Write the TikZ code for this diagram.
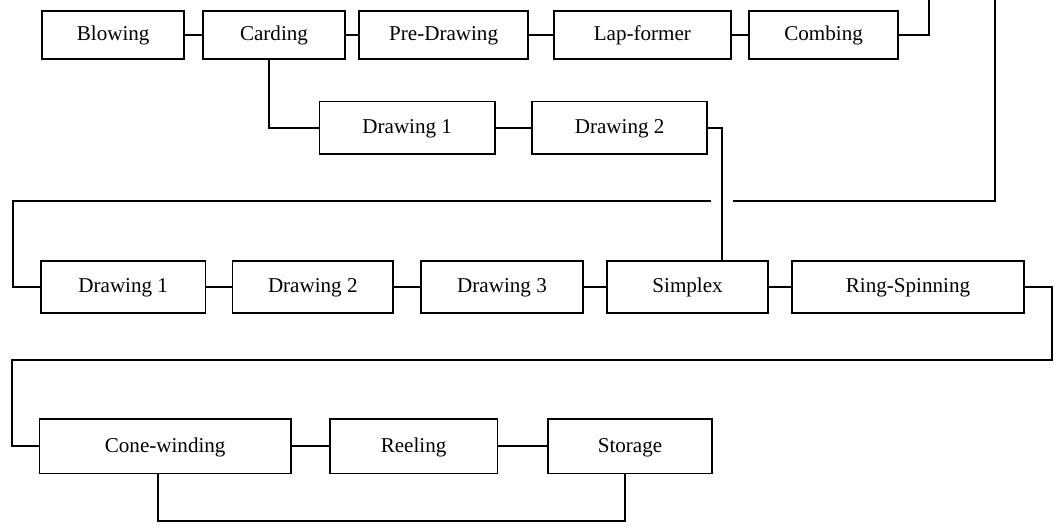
\documentclass[tikz,border=0pt]{standalone}
\usepackage{fontspec}
\setmainfont{Liberation Serif}
\usetikzlibrary{positioning,calc}
\tikzset{
  spbox/.style={draw, rectangle, line width=1.2pt, inner sep=2pt, minimum height=1.3cm,
    text height=2.1ex, text depth=0.3ex, font=\fontsize{15}{18}\selectfont},
  splink/.style={line width=1.2pt},
}

\begin{document}
\begin{tikzpicture}[x=1cm,y=1cm]
  \useasboundingbox (0,0) rectangle (26.35,13.275);
  \clip (0,0) rectangle (26.35,13.275);

  % opening line
  \node[spbox, minimum width=3.55cm, minimum height=1.2cm] (blow) at (2.83,12.4) {Blowing};
  \node[spbox, minimum width=3.55cm, minimum height=1.2cm] (card) at (6.85,12.4) {Carding};
  \node[spbox, minimum width=4.22cm, minimum height=1.2cm] (pre) at (11.09,12.4) {Pre-Drawing};
  \node[spbox, minimum width=4.42cm, minimum height=1.2cm] (lap) at (16.06,12.4) {Lap-former};
  \node[spbox, minimum width=3.72cm, minimum height=1.2cm] (comb) at (20.59,12.4) {Combing};

  \draw[splink] (blow.east) -- (card.west);
  \draw[splink] (card.east) -- (pre.west);
  \draw[splink] (pre.east) -- (lap.west);
  \draw[splink] (lap.east) -- (comb.west);

  % carded branch
  \node[spbox, minimum width=4.39cm, minimum height=1.32cm] (dr1) at (10.18,10.08) {Drawing 1};
  \node[spbox, minimum width=4.38cm, minimum height=1.32cm] (dr2) at (15.49,10.08) {Drawing 2};

  \draw[splink] ($(card.south)+(-0.13,0)$) |- (dr1.west);
  \draw[splink] (dr1.east) -- (dr2.west);

  % spinning line
  \node[spbox, minimum width=4.12cm] (d1b) at (3.08,6.1) {Drawing 1};
  \node[spbox, minimum width=4.01cm] (d2b) at (7.82,6.1) {Drawing 2};
  \node[spbox, minimum width=4.05cm] (d3b) at (12.55,6.1) {Drawing 3};
  \node[spbox, minimum width=4.03cm] (simp) at (17.19,6.1) {Simplex};
  \node[spbox, minimum width=5.79cm] (ring) at (22.7,6.1) {Ring-Spinning};

  \draw[splink] (d1b.east) -- (d2b.west);
  \draw[splink] (d2b.east) -- (d3b.west);
  \draw[splink] (d3b.east) -- (simp.west);
  \draw[splink] (simp.east) -- (ring.west);
  \draw[splink] (dr2.east) -| ($(simp.north east)+(-1.18,0)$);

  % combed loop
  \coordinate (loopA) at (23.22,13.6);
  \coordinate (loopB) at (24.88,8.25);
  \coordinate (gapR) at (18.32,8.25);
  \coordinate (gapL) at (17.78,8.25);
  \coordinate (feedC) at (0.32,8.25);
  \draw[splink] (comb.east) -| (loopA) -| (loopB) -- (gapR);
  \draw[splink] (gapL) -- (feedC) |- (d1b.west);

  % finishing line
  \node[spbox, minimum width=6.28cm, minimum height=1.36cm] (cone) at (4.13,2.12) {Cone-winding};
  \node[spbox, minimum width=4.19cm, minimum height=1.36cm] (reel) at (10.34,2.12) {Reeling};
  \node[spbox, minimum width=4.11cm, minimum height=1.36cm] (stor) at (15.75,2.12) {Storage};

  \draw[splink] (cone.east) -- (reel.west);
  \draw[splink] (reel.east) -- (stor.west);

  \coordinate (turnA) at (26.3,4.28);
  \coordinate (turnB) at (0.3,4.28);
  \draw[splink] (ring.east) -| (turnA) -- (turnB) |- (cone.west);

  \coordinate (baseA) at (3.95,0.25);
  \coordinate (baseB) at (15.63,0.25);
  \draw[splink] (cone.south -| baseA) -- (baseA) -- (baseB) -- (stor.south -| baseB);
\end{tikzpicture}
\end{document}
